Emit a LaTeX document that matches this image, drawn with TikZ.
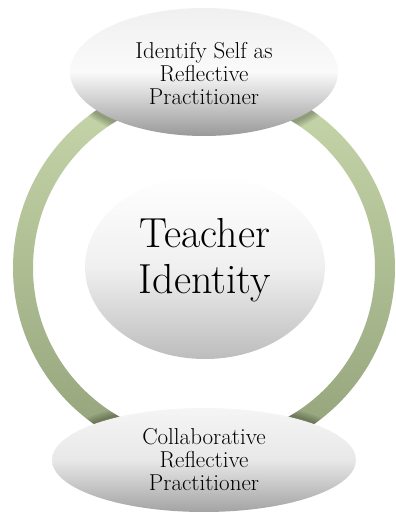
\documentclass[tikz,border=0pt]{standalone}
\usetikzlibrary{shapes.geometric}
\definecolor{ringtop}{RGB}{201,217,172}
\definecolor{ringbot}{RGB}{146,161,121}
\tikzset{
  bubble/.style={ellipse, inner sep=0pt, draw=none},
  smalltext/.style={align=center, inner sep=0pt, font=\fontsize{23}{23}\selectfont},
  bigtext/.style={align=center, inner sep=0pt, font=\fontsize{42}{46}\selectfont},
  shadowlayer/.style={fill=black, opacity=0.07},
}
\begin{document}
\begin{tikzpicture}[x=1pt,y=1pt]
\useasboundingbox (0,0) rectangle (396,512);
% ring
\shade[even odd rule, top color=ringtop, bottom color=ringbot]
  (204,244) circle (191) (204,244) circle (171);
% soft shadows on the ring next to the ellipses
\begin{scope}[even odd rule]
  \clip (204,244) circle (191) (204,244) circle (171);
  \foreach \d in {8,6,4,2}{
    \fill[shadowlayer] (204,438) ellipse ({134+\d} and {64+\d});
    \fill[shadowlayer] (204,53) ellipse ({152+\d} and {52+\d});
  }
\end{scope}
% ellipses
\node[bubble, minimum width=268pt, minimum height=128pt,
      top color=black!6, bottom color=black!40, middle color=black!2]
  (top) at (204,440) {};
\node[bubble, minimum width=240pt, minimum height=184pt,
      top color=white, bottom color=black!26, middle color=black!6]
  (mid) at (205,245) {};
\node[bubble, minimum width=304pt, minimum height=104pt,
      top color=black!4, bottom color=black!36, middle color=black!9]
  (bot) at (204,52) {};
% texts
\node[smalltext] (toptext) at (204,438) {Identify Self as\\Reflective\\Practitioner};
\node[bigtext] (midtext) at (205,252) {Teacher\\Identity};
\node[smalltext] (bottext) at (204,52.5) {Collaborative\\Reflective\\Practitioner};
\end{tikzpicture}
\end{document}
